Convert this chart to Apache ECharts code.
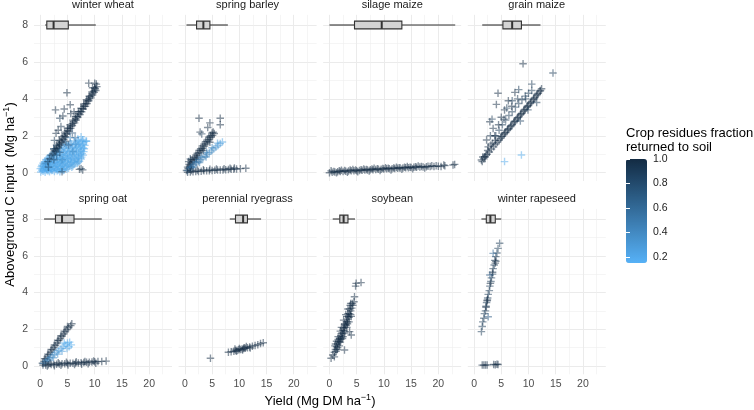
<!DOCTYPE html>
<html>
<head>
<meta charset="utf-8">
<title>Crop residues</title>
<script src="https://cdn.jsdelivr.net/npm/echarts@6/dist/echarts.min.js"></script>
<style>
  html, body { margin: 0; padding: 0; background: #fff; }
  #chart { width: 754px; height: 410px; }
</style>
</head>
<body>
<div id="chart"></div>
<script>
// facet names, in panel order (row by row)
const crops = ['winter wheat', 'spring barley', 'silage maize', 'grain maize',
               'spring oat', 'perennial ryegrass', 'soybean', 'winter rapeseed'];

// points: [yield (Mg DM/ha), aboveground C input (Mg/ha), residue fraction returned]
const winterWheat = [
  // light blue cloud
  [0.1,0.04,.18],[0.5,0.08,.2],[0.9,0.03,.17],[1.3,0.1,.2],[1.7,0.05,.18],[2.1,0.12,.22],[2.6,0.06,.19],[3.1,0.1,.2],[3.6,0.05,.2],[4.2,0.12,.22],
  [0.3,0.13,.2],[0.7,0.12,.18],[1.1,0.15,.2],[1.5,0.12,.2],[1.9,0.16,.22],[2.3,0.13,.2],[2.8,0.17,.18],[3.3,0.14,.2],[3.8,0.16,.2],[4.4,0.15,.22],[4.9,0.18,.2],
  [0.0,0.22,.2],[0.4,0.2,.18],[0.8,0.26,.2],[1.2,0.2,.22],[1.6,0.27,.2],[2.0,0.22,.18],[2.5,0.28,.2],[3.0,0.22,.23],[3.5,0.27,.2],[4.0,0.22,.2],[4.6,0.28,.22],[5.2,0.24,.2],[5.8,0.3,.25],
  [0.2,0.32,.2],[0.6,0.34,.2],[1.0,0.31,.22],[1.4,0.35,.2],[1.8,0.32,.18],[2.2,0.36,.2],[2.7,0.33,.22],[3.2,0.36,.2],[3.7,0.32,.2],[4.2,0.37,.22],[4.8,0.34,.2],[5.4,0.37,.22],[6.0,0.36,.25],
  [0.3,0.4,.2],[0.7,0.45,.22],[1.1,0.4,.18],[1.5,0.46,.2],[1.9,0.41,.2],[2.4,0.47,.22],[2.9,0.42,.2],[3.4,0.47,.18],[3.9,0.42,.2],[4.4,0.48,.22],[5.0,0.43,.2],[5.6,0.48,.25],[6.2,0.44,.22],[6.8,0.5,.25],
  [0.5,0.52,.22],[0.9,0.55,.2],[1.3,0.51,.2],[1.7,0.56,.22],[2.1,0.52,.2],[2.6,0.56,.2],[3.1,0.52,.22],[3.6,0.56,.2],[4.1,0.52,.2],[4.6,0.57,.22],[5.2,0.53,.2],[5.8,0.58,.22],[6.4,0.54,.22],[7.0,0.58,.25],
  [0.8,0.6,.22],[1.3,0.66,.2],[1.8,0.6,.2],[2.3,0.66,.22],[2.8,0.6,.18],[3.3,0.66,.2],[3.8,0.6,.22],[4.3,0.66,.2],[4.9,0.61,.2],[5.5,0.67,.22],[6.1,0.62,.2],[6.7,0.68,.22],[7.2,0.62,.25],
  [1.1,0.72,.22],[1.6,0.75,.2],[2.1,0.71,.22],[2.6,0.76,.2],[3.1,0.72,.2],[3.6,0.76,.22],[4.1,0.72,.2],[4.6,0.77,.2],[5.2,0.73,.22],[5.8,0.77,.2],[6.4,0.73,.22],[7.0,0.78,.2],[7.5,0.74,.22],
  [1.4,0.8,.25],[2.0,0.86,.2],[2.6,0.8,.22],[3.2,0.86,.2],[3.8,0.8,.2],[4.4,0.86,.22],[5.0,0.81,.2],[5.6,0.87,.2],[6.3,0.82,.22],[7.0,0.88,.2],[7.6,0.84,.22],
  [1.8,0.93,.25],[2.4,0.95,.22],[3.0,0.92,.2],[3.6,0.96,.2],[4.2,0.92,.22],[4.8,0.96,.2],[5.4,0.92,.2],[6.0,0.97,.22],[6.7,0.93,.2],[7.3,0.97,.2],[7.9,0.95,.22],
  [2.2,1.0,.3],[2.9,1.06,.25],[3.6,1.0,.22],[4.3,1.06,.2],[5.0,1.01,.22],[5.7,1.07,.2],[6.4,1.02,.2],[7.1,1.08,.22],[7.7,1.03,.2],
  [2.6,1.12,.28],[3.3,1.15,.25],[4.0,1.12,.22],[4.6,1.16,.2],[5.3,1.12,.22],[6.0,1.16,.2],[6.7,1.13,.2],[7.4,1.17,.22],[8.0,1.14,.2],
  [3.0,1.2,.3],[3.9,1.26,.25],[4.8,1.21,.22],[5.6,1.27,.2],[6.3,1.22,.2],[7.0,1.28,.2],[7.6,1.23,.2],[8.1,1.3,.2],
  [3.5,1.32,.28],[4.4,1.35,.22],[5.1,1.32,.2],[5.9,1.36,.22],[6.6,1.33,.2],[7.3,1.37,.2],[7.9,1.34,.2],
  [4.2,1.42,.3],[5.2,1.46,.25],[6.0,1.41,.22],[6.8,1.47,.2],[7.5,1.43,.2],[8.2,1.48,.2],
  [4.8,1.52,.28],[5.7,1.55,.22],[6.4,1.52,.2],[7.1,1.56,.2],[7.8,1.53,.2],
  [5.5,1.6,.3],[6.6,1.65,.22],[7.3,1.6,.2],[8.0,1.66,.2],[8.5,1.7,.2],
  [6.2,1.72,.22],[7.0,1.73,.2],[7.7,1.7,.2],
  [6.9,1.82,.2],[7.8,1.78,.2],[7.5,1.95,.2],[8.4,1.72,.2],
  [3.5,1.5,.45],[4.5,1.6,.4],[5.5,1.9,.45],[2.5,1.3,.5],[6.0,1.15,.4],[4.0,0.7,.4],[1.0,0.5,.45],[6.5,1.55,.35],
  // dark band
  [1.4,0.6,.95],[1.7,0.75,1],[2.0,0.95,1],[2.3,1.02,1],[2.6,1.2,1],[2.9,1.3,1],[3.2,1.42,1],[3.5,1.6,1],[3.8,1.7,1],[4.1,1.83,1],[4.4,2.0,1],[4.7,2.1,1],
  [5.0,2.27,1],[5.3,2.38,1],[5.6,2.5,1],[5.9,2.66,1],[6.2,2.78,1],[6.5,2.92,1],[6.8,3.05,1],[7.1,3.2,1],[7.4,3.32,1],[7.7,3.47,1],[8.0,3.6,1],
  [8.3,3.73,1],[8.6,3.88,1],[8.9,4.0,1],[9.2,4.14,1],[9.5,4.27,1],[9.8,4.42,1],[10.1,4.55,1],[10.4,4.66,1],
  [2.5,1.28,1],[3.0,1.5,1],[3.5,1.75,1],[4.0,1.95,1],[4.5,2.2,1],[5.0,2.42,1],[5.5,2.6,1],[6.0,2.85,1],[6.5,3.05,1],[7.0,3.3,1],[7.5,3.5,1],
  [8.0,3.72,1],[8.5,3.95,1],[9.0,4.15,1],[9.5,4.38,1],[10.0,4.6,1],[10.3,4.8,1],
  [3.3,1.35,1],[4.3,1.8,1],[5.3,2.25,1],[6.3,2.7,1],[7.3,3.15,1],[8.3,3.6,1],[9.3,4.05,1],[10.2,4.45,1],
  [2.8,1.15,1],[3.6,1.5,1],[3.9,1.62,1],[4.6,1.95,1],[4.9,2.1,1],[5.6,2.4,1],[5.9,2.55,1],[6.6,2.85,1],[6.9,3.0,1],[7.6,3.3,1],
  [7.9,3.45,1],[8.6,3.75,1],[8.9,3.9,1],[9.6,4.2,1],[9.9,4.35,1],
  // scattered
  [4.9,4.33,1],[2.8,3.4,1],[4.4,3.45,1],[5.5,3.68,1],[4.15,3.07,1],[3.6,2.95,.9],[2.9,2.13,1],[3.8,2.5,.95],[3.3,2.3,1],[2.6,1.75,.9],
  [5.6,3.2,1],[6.2,3.3,1],[8.9,4.85,1],[10.0,4.85,1],[9.6,4.6,1],[7.2,0.18,1],[7.8,0.15,1],[7.5,0.22,.9],[4.0,0.05,.9],[1.5,0.3,.9],
  [2.5,0.7,.85],[3.6,1.1,.8],[5.2,1.5,.7],[6.4,1.9,.6],[5.9,2.15,.75],[4.7,1.7,.85],[3.0,0.95,.8]
];

const springBarley = [
  [0.3,0.12,1],[0.6,0.22,1],[0.9,0.36,1],[1.2,0.47,1],[1.5,0.6,1],[1.8,0.72,1],[2.1,0.84,1],[2.4,0.95,1],[2.7,1.08,1],[3.0,1.2,1],
  [3.3,1.32,1],[3.6,1.44,1],[3.9,1.56,1],[4.2,1.68,1],[4.5,1.8,1],[4.8,1.92,1],[5.1,2.02,1],[5.4,2.12,1],
  [0.8,0.45,1],[1.4,0.7,1],[2.0,0.95,1],[2.6,1.2,1],[3.2,1.45,1],[3.8,1.68,1],[4.4,1.92,1],[5.0,2.15,1],
  [1.0,0.3,1],[2.2,0.75,1],[3.4,1.2,1],[4.6,1.65,1],
  [0.5,0.3,1],[1.1,0.55,1],[1.7,0.82,1],[2.3,1.05,1],[2.9,1.3,1],[3.5,1.55,1],[4.1,1.78,1],[4.7,2.0,1],[5.2,2.2,1],
  [2.6,2.95,1],[2.8,2.2,1],[4.6,2.7,1],[6.5,2.95,1],[6.5,2.6,1],[4.2,2.45,1],[3.1,2.1,.9],[1.0,0.75,.9],[0.7,0.6,.95],[1.1,0.69,1],
  [0.5,0.12,.6],[0.9,0.22,.6],[1.3,0.32,.55],[1.7,0.42,.55],[2.1,0.52,.5],[2.5,0.6,.5],[2.9,0.7,.5],[3.3,0.8,.45],[3.7,0.9,.45],
  [4.1,1.0,.45],[4.5,1.08,.4],[4.9,1.18,.4],[5.3,1.28,.35],[5.7,1.38,.35],[6.1,1.47,.3],[6.5,1.58,.3],[6.9,1.66,.25],
  [1.0,0.3,.6],[2.0,0.58,.55],[3.0,0.85,.5],[4.0,1.1,.45],[5.0,1.35,.4],[6.0,1.6,.3],[1.5,0.28,.5],[2.7,0.55,.5],[3.9,0.85,.45],
  [0.5,0.02,1],[1.0,0.04,1],[1.5,0.05,1],[2.0,0.06,1],[2.5,0.07,1],[3.0,0.08,1],[3.5,0.1,1],[4.0,0.1,1],[4.5,0.11,1],[5.0,0.12,1],
  [5.5,0.13,1],[6.0,0.14,1],[6.5,0.15,1],[7.0,0.15,1],[7.5,0.16,1],[8.0,0.17,1],[8.5,0.18,1],[9.0,0.19,1],[9.5,0.2,1],[10.2,0.22,1],[11.2,0.24,1],
  [1.2,0.12,1],[2.3,0.14,1],[3.4,0.16,1],[4.6,0.18,1],[5.8,0.2,1],[7.2,0.22,1],[8.3,0.24,1],[9.1,0.26,1]
];

const silageMaize = [
  [0.0,0.0,1],[0.5,0.03,1],[1.0,0.04,1],[1.5,0.05,1],[2.0,0.06,1],[2.5,0.07,1],[3.0,0.08,1],[3.5,0.09,1],[4.0,0.1,1],[4.5,0.1,1],
  [5.0,0.11,1],[5.5,0.12,1],[6.0,0.13,1],[6.5,0.14,1],[7.0,0.15,1],[7.5,0.16,1],[8.0,0.16,1],[8.5,0.17,1],[9.0,0.18,1],[9.5,0.19,1],
  [10.0,0.2,1],[10.5,0.21,1],[11.0,0.22,1],[11.5,0.22,1],[12.0,0.23,1],[12.5,0.24,1],[13.0,0.25,1],[13.5,0.26,1],[14.0,0.27,1],[14.5,0.27,1],
  [15.0,0.28,1],[15.5,0.29,1],[16.0,0.3,1],[16.6,0.31,1],[17.2,0.31,1],[17.8,0.32,1],[18.5,0.33,1],[19.2,0.34,1],[20.0,0.35,1],[21.2,0.38,1],[23.0,0.45,1],
  [0.3,0.1,1],[1.3,0.0,1],[2.2,0.13,1],[3.3,0.02,1],[4.3,0.17,1],[5.2,0.05,1],[6.3,0.2,1],[7.3,0.09,1],[8.2,0.24,1],[9.3,0.12,1],
  [10.3,0.27,1],[11.3,0.15,1],[12.3,0.3,1],[13.3,0.19,1],[14.3,0.33,1],[15.3,0.22,1],[16.3,0.36,1],[17.5,0.26,1],[18.8,0.38,1],[20.5,0.33,1],[21.0,0.42,1],[22.7,0.42,1],
  [0.8,0.07,1],[1.8,0.1,1],[2.8,0.12,1],[3.8,0.14,1],[4.8,0.14,1],[5.8,0.16,1],[6.8,0.17,1],[7.8,0.2,1],[8.8,0.21,1],[9.8,0.23,1],
  [10.8,0.24,1],[11.8,0.26,1],[12.8,0.27,1],[13.8,0.29,1],[14.8,0.3,1],[15.8,0.32,1],[16.9,0.33,1],[18.1,0.35,1],[19.6,0.37,1]
];

const grainMaize = [
  [5.6,0.6,.2],[8.7,0.96,.2],
  [2.0,0.85,1],[2.4,1.0,1],[2.8,1.12,1],[3.2,1.28,1],[3.6,1.4,1],[4.0,1.55,1],[4.3,1.65,1],[4.6,1.76,1],[4.9,1.86,1],[5.2,1.97,1],
  [5.5,2.07,1],[5.8,2.18,1],[6.1,2.28,1],[6.4,2.38,1],[6.7,2.49,1],[7.0,2.6,1],[7.3,2.7,1],[7.6,2.8,1],[7.9,2.91,1],[8.2,3.02,1],
  [8.5,3.12,1],[8.8,3.22,1],[9.1,3.33,1],[9.4,3.44,1],[9.7,3.54,1],[10.0,3.64,1],[10.3,3.75,1],[10.6,3.86,1],[10.9,3.96,1],[11.2,4.07,1],
  [11.5,4.18,1],[11.8,4.3,1],[12.1,4.42,1],[12.4,4.55,1],
  [5.0,1.95,1],[5.6,2.15,1],[6.2,2.35,1],[6.8,2.55,1],[7.4,2.78,1],[8.0,2.98,1],[8.6,3.18,1],[9.2,3.4,1],[9.8,3.6,1],[10.4,3.8,1],
  [11.0,4.02,1],[11.6,4.25,1],[12.2,4.45,1],
  [4.0,2.0,.9],[4.6,2.3,.9],[5.2,2.6,.9],[5.8,2.85,.9],[6.4,3.1,.9],[7.0,3.3,.9],[7.6,3.55,.9],[8.2,3.75,.9],[8.8,3.95,.9],[9.4,4.15,.9],[10.0,4.3,.9],[10.6,4.45,.9],
  [9.0,5.9,1],[14.5,5.4,.9],[10.6,4.8,.9],[4.4,4.3,1],[7.5,4.35,1],[8.2,4.5,.9],[6.3,3.9,1],[6.9,3.6,1],[4.1,3.7,1],[5.6,3.4,1],
  [5.0,3.0,1],[2.9,2.76,1],[3.3,2.9,.9],[3.5,2.4,1],[2.3,1.77,1],[2.6,1.4,1],[3.0,2.0,.95],[2.0,0.87,1],[1.35,0.69,1],[1.6,0.85,1],
  [9.9,3.4,.9],[11.5,3.8,.9],[8.5,2.8,.85],[7.0,3.9,.9],[5.5,2.9,.95],[4.5,2.6,1],[3.8,2.0,1],[6.0,3.5,.9],[8.0,4.0,.95],[9.5,4.0,.9],
  [1.5,0.6,1],[1.8,0.75,1],[2.2,0.95,1],[2.5,1.2,1],[3.1,1.5,1],[3.4,1.6,1],[3.9,1.75,1]
];

const springOat = [
  [0.4,0.15,1],[0.7,0.25,1],[1.0,0.38,1],[1.3,0.5,1],[1.6,0.62,1],[1.9,0.75,1],[2.2,0.88,1],[2.5,1.0,1],[2.8,1.12,1],[3.1,1.25,1],
  [3.4,1.38,1],[3.7,1.5,1],[4.0,1.62,1],[4.3,1.74,1],[4.6,1.86,1],[4.9,1.98,1],[5.2,2.08,1],[5.6,2.2,1],[5.8,2.3,1],
  [0.8,0.4,1],[1.4,0.65,1],[2.0,0.9,1],[2.6,1.15,1],[3.2,1.4,1],[3.8,1.65,1],[4.4,1.9,1],[5.0,2.15,1],
  [0.6,0.15,.5],[1.0,0.25,.5],[1.4,0.35,.45],[1.8,0.45,.4],[2.2,0.55,.35],[2.6,0.65,.35],[3.0,0.75,.3],[3.4,0.85,.3],[3.8,0.95,.25],
  [4.2,1.05,.25],[4.6,1.15,.2],[5.0,1.25,.2],[5.4,1.3,.2],[5.7,1.15,.2],[4.9,0.95,.25],[4.0,0.8,.3],[3.2,0.65,.35],[2.4,0.45,.4],
  [1.6,0.3,.45],[5.3,1.05,.2],[4.4,1.25,.2],
  [0.5,0.05,1],[1.0,0.06,1],[1.5,0.07,1],[2.0,0.08,1],[2.5,0.09,1],[3.0,0.1,1],[3.5,0.11,1],[4.0,0.12,1],[4.5,0.13,1],[5.0,0.14,1],
  [5.5,0.15,1],[6.0,0.15,1],[6.5,0.16,1],[7.0,0.17,1],[7.5,0.18,1],[8.0,0.19,1],[8.5,0.2,1],[9.0,0.21,1],[9.5,0.22,1],[10.0,0.23,1],
  [10.6,0.24,1],[11.3,0.25,1],[12.1,0.27,1],
  [1.3,0.0,1],[2.6,0.02,1],[3.8,0.04,1],[5.1,0.06,1],[6.3,0.08,1],[7.6,0.1,1],[8.8,0.12,1],[10.2,0.15,1],
  [1.8,0.15,1],[3.3,0.18,1],[4.8,0.2,1],[6.6,0.23,1],[8.2,0.25,1],[9.8,0.28,1]
];

const perennialRyegrass = [
  [4.7,0.42,1],
  [8.0,0.75,1],[8.5,0.78,1],[9.0,0.8,1],[9.3,0.84,1],[9.6,0.86,1],[9.9,0.88,1],[10.2,0.9,1],[10.5,0.92,1],[10.8,0.95,1],[11.1,0.97,1],
  [11.5,1.0,1],[11.9,1.04,1],[12.4,1.08,1],[12.9,1.12,1],[13.4,1.16,1],[13.9,1.22,1],[14.4,1.27,1],
  [9.5,0.8,1],[10.0,0.95,1],[10.6,0.87,1],[11.3,1.06,1],[12.0,0.98,1],[9.2,0.92,1],[10.9,1.0,1]
];

const soybean = [
  [0.3,0.42,1],[0.6,0.6,1],[0.9,0.75,1],[1.1,0.9,1],[1.3,1.05,1],[1.5,1.2,1],[1.7,1.35,1],[1.9,1.5,1],[2.1,1.65,1],[2.3,1.8,1],
  [2.5,1.95,1],[2.7,2.1,1],[2.9,2.25,1],[3.1,2.4,1],[3.3,2.55,1],[3.5,2.7,1],[3.7,2.85,1],[3.9,3.0,1],[4.1,3.15,1],[4.3,3.3,1],
  [4.5,3.5,1],[4.6,3.77,1],
  [1.0,1.1,1],[1.4,0.9,1],[1.6,1.6,1],[2.0,1.3,1],[2.2,2.1,1],[2.4,1.5,1],[2.6,2.5,1],[2.8,1.8,1],[3.0,2.8,1],[3.2,2.1,1],
  [3.4,3.1,1],[3.6,2.4,1],[3.8,3.3,1],[4.0,2.7,1],[1.8,1.1,1],[2.5,1.6,1],[1.3,1.35,1],[2.0,1.9,1],[3.3,2.3,1],[3.9,3.4,1],
  [1.2,0.8,1],[1.5,1.0,1],[1.8,1.3,1],[2.1,1.45,1],[2.4,1.75,1],[2.7,1.9,1],[3.0,2.2,1],[3.3,2.4,1],[3.6,2.65,1],[3.9,2.8,1],
  [1.6,1.45,1],[2.2,1.55,1],[2.8,2.3,1],[3.4,2.85,1],[1.1,1.2,1],[2.6,2.05,1],[3.2,2.7,1],[3.7,3.1,1],[4.2,3.4,1],
  [4.9,4.5,1],[5.8,4.54,1],[4.8,4.35,1],[2.76,0.87,1],[4.0,1.69,1],[3.7,1.87,1],[0.9,0.5,1]
];

const winterRapeseed = [
  [1.35,1.87,.9],[1.5,2.15,.9],[1.6,2.4,.9],[1.8,2.6,.9],[1.9,2.85,.9],[2.1,3.0,.9],[2.2,3.25,.9],[2.3,3.45,.9],[2.5,3.7,.9],[2.6,3.9,.9],
  [2.8,4.1,.9],[2.9,4.35,.9],[3.1,4.6,.9],[3.2,4.8,.9],[3.4,5.0,.9],[3.5,5.3,.9],[3.7,5.5,.9],[3.8,5.75,.9],[4.0,5.95,.9],[4.2,6.15,.9],
  [4.4,6.4,.9],[4.7,6.68,.9],
  [2.4,3.55,1],[2.45,3.6,1],[3.0,4.5,1],[3.9,5.6,1],[4.0,5.7,1],[3.4,5.1,1],[2.2,3.2,1],
  [3.5,6.13,.6],[2.9,4.95,.7],[2.6,2.68,.7],
  [1.5,0.05,1],[1.8,0.05,1],[2.1,0.05,1],[2.4,0.06,1],[3.6,0.08,1],[3.9,0.07,1],[4.2,0.1,1],[4.4,0.08,1]
];

// yield boxplots drawn at y = 8: [min, q1, median, q3, max]
const winterWheatBox = [0.9, 1.2, 2.45, 5.15, 10.2];
const springBarleyBox = [0.3, 2.15, 3.4, 4.6, 7.9];
const silageMaizeBox = [0.0, 4.6, 9.6, 13.3, 23.1];
const grainMaizeBox = [1.5, 5.3, 7.0, 8.7, 12.2];
const springOatBox = [0.7, 2.8, 4.0, 6.2, 11.3];
const perennialRyegrassBox = [8.25, 9.3, 10.7, 11.5, 14.0];
const soybeanBox = [0.6, 1.9, 2.6, 3.4, 4.7];
const winterRapeseedBox = [1.35, 2.25, 3.0, 3.9, 5.0];
const boxRow = 8;

// colour bar breaks
const legendBreaks = [0.2, 0.4, 0.6, 0.8, 1.0];

const cropPoints = [winterWheat, springBarley, silageMaize, grainMaize,
                    springOat, perennialRyegrass, soybean, winterRapeseed];
const cropBoxes = [winterWheatBox, springBarleyBox, silageMaizeBox, grainMaizeBox,
                   springOatBox, perennialRyegrassBox, soybeanBox, winterRapeseedBox];

const FONT = '"Liberation Sans", Arial, Helvetica, sans-serif';
const PLUS = 'path://M0,2.45H6V3.55H0Z M2.45,0H3.55V6H2.45Z';

// layout of the facets
const panelLeft = 34, panelStep = 144.6, panelWidth = 138;
const rowTop = [14.85, 208.9], rowHeight = [166.15, 165.4];

const chart = echarts.init(document.getElementById('chart'));

const grids = [], xAxes = [], yAxes = [], scatterSeries = [], boxSeries = [], graphics = [];

function renderBox(params, api) {
  const y = api.value(5);
  const lo = api.coord([api.value(0), y]);
  const q1 = api.coord([api.value(1), y]);
  const md = api.coord([api.value(2), y]);
  const q3 = api.coord([api.value(3), y]);
  const hi = api.coord([api.value(4), y]);
  const h = api.size([0, 0.42])[1];
  const stroke = { stroke: '#333333', lineWidth: 1.1 };
  return {
    type: 'group',
    children: [
      { type: 'line', shape: { x1: lo[0], y1: lo[1], x2: q1[0], y2: q1[1] }, style: stroke },
      { type: 'line', shape: { x1: q3[0], y1: q3[1], x2: hi[0], y2: hi[1] }, style: stroke },
      { type: 'rect', shape: { x: q1[0], y: q1[1] - h / 2, width: q3[0] - q1[0], height: h },
        style: { fill: '#D4D4D4', stroke: '#333333', lineWidth: 1.1 } },
      { type: 'line', shape: { x1: md[0], y1: md[1] - h / 2, x2: md[0], y2: md[1] + h / 2 },
        style: { stroke: '#333333', lineWidth: 2 } }
    ]
  };
}

crops.forEach(function (name, i) {
  const row = Math.floor(i / 4), col = i % 4;
  const left = panelLeft + col * panelStep;
  grids.push({ left: left, top: rowTop[row], width: panelWidth, height: rowHeight[row] });

  xAxes.push({
    type: 'value', gridIndex: i, min: -1.15, max: 24.2, splitNumber: 5,
    axisLine: { show: false }, axisTick: { show: false },
    axisLabel: { show: row === 1, showMinLabel: false, showMaxLabel: false,
                 color: '#4D4D4D', fontSize: 10.5, fontFamily: FONT, margin: 4 },
    splitLine: { show: true, showMinLine: false, showMaxLine: false,
                 lineStyle: { color: '#EBEBEB', width: 1 } },
    minorTick: { show: false, splitNumber: 2 },
    minorSplitLine: { show: true, lineStyle: { color: '#EFEFEF', width: 0.6 } }
  });
  yAxes.push({
    type: 'value', gridIndex: i, min: -0.45, max: 8.55, splitNumber: 4,
    axisLine: { show: false }, axisTick: { show: false },
    axisLabel: { show: col === 0, showMinLabel: false, showMaxLabel: false,
                 color: '#4D4D4D', fontSize: 10.5, fontFamily: FONT, margin: 6 },
    splitLine: { show: true, showMinLine: false, showMaxLine: false,
                 lineStyle: { color: '#EBEBEB', width: 1 } },
    minorTick: { show: false, splitNumber: 2 },
    minorSplitLine: { show: true, lineStyle: { color: '#EFEFEF', width: 0.6 } }
  });

  scatterSeries.push({
    type: 'scatter', name: name, xAxisIndex: i, yAxisIndex: i,
    data: cropPoints[i], symbol: PLUS, symbolSize: 7.5,
    itemStyle: { opacity: 0.5 }, silent: true
  });
  boxSeries.push({
    type: 'custom', xAxisIndex: i, yAxisIndex: i,
    data: [cropBoxes[i].concat([boxRow])],
    encode: { x: [0, 1, 2, 3, 4], y: 5 },
    renderItem: renderBox, silent: true, z: 3
  });

  // facet strip label
  graphics.push({
    type: 'text', x: left + panelWidth / 2, y: rowTop[row] - 10,
    style: { text: name, fill: '#1A1A1A', font: '11px ' + FONT,
             textAlign: 'center', textVerticalAlign: 'middle' }
  });
});

// colour bar axes (grid 8)
grids.push({ left: 626, top: 159, width: 21, height: 104 });
xAxes.push({ type: 'value', gridIndex: 8, show: false });
yAxes.push({
  type: 'value', gridIndex: 8, min: 0.15, max: 1, position: 'right', z: 10,
  axisLine: { show: false }, splitLine: { show: false },
  axisTick: { show: true, inside: true, length: 4, customValues: legendBreaks,
              lineStyle: { color: '#FFFFFF', width: 1 } },
  axisLabel: { customValues: legendBreaks, formatter: function (v) { return v.toFixed(1); },
               color: '#222222', fontSize: 10.5, fontFamily: FONT, margin: 6 }
});
yAxes.push({
  type: 'value', gridIndex: 8, min: 0.15, max: 1, position: 'left', z: 10,
  axisLine: { show: false }, splitLine: { show: false }, axisLabel: { show: false },
  axisTick: { show: true, inside: true, length: 4, customValues: legendBreaks,
              lineStyle: { color: '#FFFFFF', width: 1 } }
});

const richAxis = {
  a: { fontSize: 13, fontFamily: FONT, fill: '#000', lineHeight: 16 },
  s: { fontSize: 9, fontFamily: FONT, fill: '#000', lineHeight: 8, verticalAlign: 'top' }
};
graphics.push({
  type: 'text', x: 320, y: 401.5,
  style: { text: '{a|Yield (Mg DM ha}{s|−1}{a|)}', rich: richAxis,
           textAlign: 'center', textVerticalAlign: 'middle' }
});
graphics.push({
  type: 'text', x: 10, y: 194.5, rotation: Math.PI / 2,
  style: { text: '{a|Aboveground C input  (Mg ha}{s|−1}{a|)}', rich: richAxis,
           textAlign: 'center', textVerticalAlign: 'middle' }
});
graphics.push({
  type: 'text', x: 626, y: 126.5,
  style: { text: 'Crop residues fraction\nreturned to soil', fill: '#000',
           font: '13px ' + FONT, lineHeight: 13.7, textAlign: 'left', textVerticalAlign: 'top' }
});

const option = {
  animation: false,
  backgroundColor: '#FFFFFF',
  grid: grids,
  xAxis: xAxes,
  yAxis: yAxes,
  visualMap: {
    type: 'continuous', min: 0.15, max: 1, dimension: 2,
    seriesIndex: [0, 1, 2, 3, 4, 5, 6, 7],
    inRange: { color: ['#56B1F7', '#132B43'] },
    orient: 'vertical', left: 626, top: 159, itemWidth: 21, itemHeight: 104,
    padding: 0, calculable: false, showLabel: false, z: 2
  },
  graphic: graphics,
  series: scatterSeries.concat(boxSeries)
};

chart.setOption(option);
</script>
</body>
</html>
